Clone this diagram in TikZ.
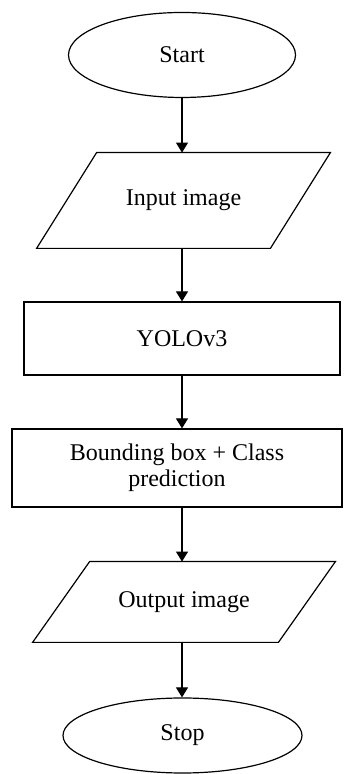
\documentclass[tikz,border=0pt]{standalone}
\usepackage{fontspec}
\setmainfont{Liberation Serif}
\usetikzlibrary{arrows.meta, shapes.geometric}

\begin{document}
\begin{tikzpicture}[x=0.5pt, y=0.5pt,
  font=\fontsize{12}{13}\selectfont,
  terminal/.style={draw, ellipse, line width=0.6pt, inner sep=0pt},
  iotext/.style={rectangle, inner sep=0pt},
  procbox/.style={draw, rectangle, line width=0.6pt, inner sep=0pt, align=center},
  edge/.style={line width=0.6pt},
  flow/.style={line width=0.6pt, -{Triangle[length=5pt, width=6pt]}}]
  \useasboundingbox (0,0) rectangle (343,774);
  % Start
  \node[terminal, minimum width=113.5pt, minimum height=42.5pt] (start) at (182,719) {Start};
  % Input image
  \node[iotext, minimum width=116.5pt, minimum height=47.5pt] (input) at (183.5,573.5) {Input image};
  \draw[edge] ([xshift=15pt]input.north west) -- ([xshift=15pt]input.north east)
    -- ([xshift=-15pt]input.south east) -- ([xshift=-15pt]input.south west) -- cycle;
  % YOLOv3
  \node[procbox, minimum width=158pt, minimum height=36.5pt] (yolo) at (182,435.5) {YOLOv3};
  % Bounding box + class
  \node[procbox, minimum width=165pt, minimum height=39pt] (bbox) at (177,306) {Bounding box + Class\\prediction};
  % Output image
  \node[iotext, minimum width=122.5pt, minimum height=40pt] (output) at (184,172) {Output image};
  \draw[edge] ([xshift=14.25pt]output.north west) -- ([xshift=14.25pt]output.north east)
    -- ([xshift=-14.25pt]output.south east) -- ([xshift=-14.25pt]output.south west) -- cycle;
  % Stop
  \node[terminal, minimum width=119.5pt, minimum height=37.5pt] (stop) at (182.5,38.5) {Stop};

  % Arrows
  \draw[flow] (start.south) -- (start.south |- input.north);
  \draw[flow] (start.south |- input.south) -- (start.south |- yolo.north);
  \draw[flow] (yolo.south) -- (yolo.south |- bbox.north);
  \draw[flow] (yolo.south |- bbox.south) -- (yolo.south |- output.north);
  \draw[flow] (yolo.south |- output.south) -- (yolo.south |- stop.north);
\end{tikzpicture}
\end{document}
